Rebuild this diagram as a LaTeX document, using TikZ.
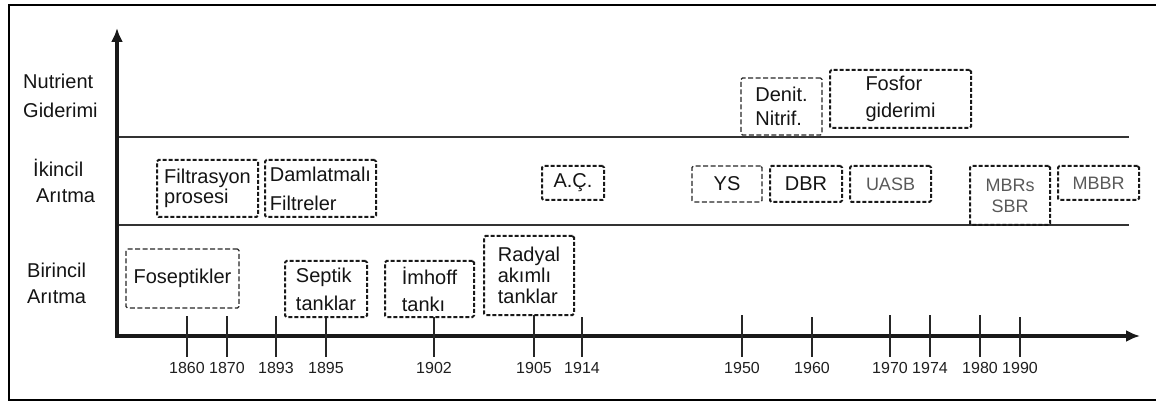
\documentclass[tikz,border=0pt]{standalone}
\usepackage{fontspec}
\setmainfont{Liberation Sans}
\usetikzlibrary{arrows.meta}
\begin{document}
\begin{tikzpicture}[x=1pt,y=-1pt,
  box/.style={draw=black!90, line width=2pt, dash pattern=on 4pt off 2pt, rounded corners=1.5pt,
    inner sep=0pt, align=left, text=black!92, font=\fontsize{20}{24}\selectfont},
  thinbox/.style={box, draw=black!85, line width=1.3pt, dash pattern=on 5pt off 2.5pt},
  graytext/.style={text=black!65},
  rowlab/.style={anchor=base west, inner sep=0pt, text=black!92, font=\fontsize{20}{24}\selectfont},
  yearlab/.style={anchor=base, inner sep=0pt, text=black!88, font=\fontsize{16}{18}\selectfont},
  axisline/.style={line width=3.2pt, black!90, -{Latex[length=14pt,width=12pt]}},
  sepline/.style={line width=1.4pt, black!80},
  tickline/.style={line width=1.4pt, black!85},
  frameline/.style={line width=2.5pt, black}
]
\useasboundingbox (0,0) rectangle (1156,403);
% frame
\draw[frameline] (1158,5) -- (9,5) -- (9,400) -- (1158,400);

% row labels
\node[rowlab] (nut1) at (23,89) {Nutrient};
\node[rowlab] (nut2) at (23,118) {Giderimi};
\node[rowlab] (iki1) at (33,177) {İkincil};
\node[rowlab] (iki2) at (36,203) {Arıtma};
\node[rowlab] (bir1) at (27,277) {Birincil};
\node[rowlab] (bir2) at (27,303) {Arıtma};

% axes
\coordinate (O) at (117,336);
\coordinate (ytop) at (117,28);
\coordinate (xend) at (1140,336);
\coordinate (s1a) at (117,137);
\coordinate (s1b) at (1129,137);
\coordinate (s2a) at (117,225);
\coordinate (s2b) at (1129,225);
\draw[sepline] (s1a) -- (s1b);
\draw[sepline] (s2a) -- (s2b);
\draw[axisline] ([yshift=-1.6pt]O) -- (ytop);
\draw[axisline] ([xshift=-1.6pt]O) -- (xend);

% ticks and years
\foreach \yr/\x/\t in {1860/187/316, 1870/227/316, 1893/276/316, 1895/326/317,
  1902/434/317, 1905/534/315, 1914/582/317, 1950/742/315, 1960/812/317,
  1970/890/315, 1974/930/315, 1980/980/315, 1990/1020/317}{
  \node[yearlab] (yr\yr) at (\x,373) {\yr};
  \coordinate (tk\yr) at (\x,\t);
  \draw[tickline] (tk\yr) -- (\x,357);
}

% boxes
\node[box, minimum width=101pt, minimum height=57pt, font=\fontsize{20}{18}\selectfont] (fil) at (207.5,188.5) {Filtrasyon\\prosesi};
\node[box, minimum width=111pt, minimum height=57pt, font=\fontsize{20}{29}\selectfont] (dam) at (320.5,188.5) {Damlatmalı\\Filtreler};
\node[thinbox, minimum width=113pt, minimum height=59pt] (fos) at (182.5,278.5) {Foseptikler};
\node[box, minimum width=82pt, minimum height=56pt, font=\fontsize{20}{28}\selectfont] (sep) at (326,289) {Septik\\tanklar};
\node[box, minimum width=89pt, minimum height=56pt, font=\fontsize{20}{27}\selectfont] (imh) at (429.5,289) {İmhoff\\tankı};
\node[box, minimum width=90pt, minimum height=79pt, font=\fontsize{20}{21}\selectfont] (rad) at (529,275.5) {Radyal\\akımlı\\tanklar};
\node[box, minimum width=62pt, minimum height=34pt] (ac) at (573,183) {A.Ç.};
\node[thinbox, minimum width=70pt, minimum height=36pt] (ys) at (727,184) {YS};
\node[box, minimum width=72pt, minimum height=36pt] (dbr) at (806,184) {DBR};
\node[box, graytext, minimum width=81pt, minimum height=36pt, font=\fontsize{18}{22}\selectfont] (uasb) at (890.5,184) {UASB};
\node[box, graytext, minimum width=80pt, minimum height=59pt, align=center, font=\fontsize{18}{21}\selectfont] (mbr) at (1010,195.5) {MBRs\\SBR};
\node[box, graytext, minimum width=81pt, minimum height=34pt, font=\fontsize{18}{22}\selectfont] (mbbr) at (1098.5,183) {MBBR};
\node[thinbox, minimum width=81pt, minimum height=57pt, font=\fontsize{20}{24}\selectfont] (den) at (781.5,106.5) {Denit.\\Nitrif.};
\node[box, minimum width=141pt, minimum height=58pt, font=\fontsize{20}{27}\selectfont] (fosf) at (900.5,99) {Fosfor\\giderimi};
\end{tikzpicture}
\end{document}
